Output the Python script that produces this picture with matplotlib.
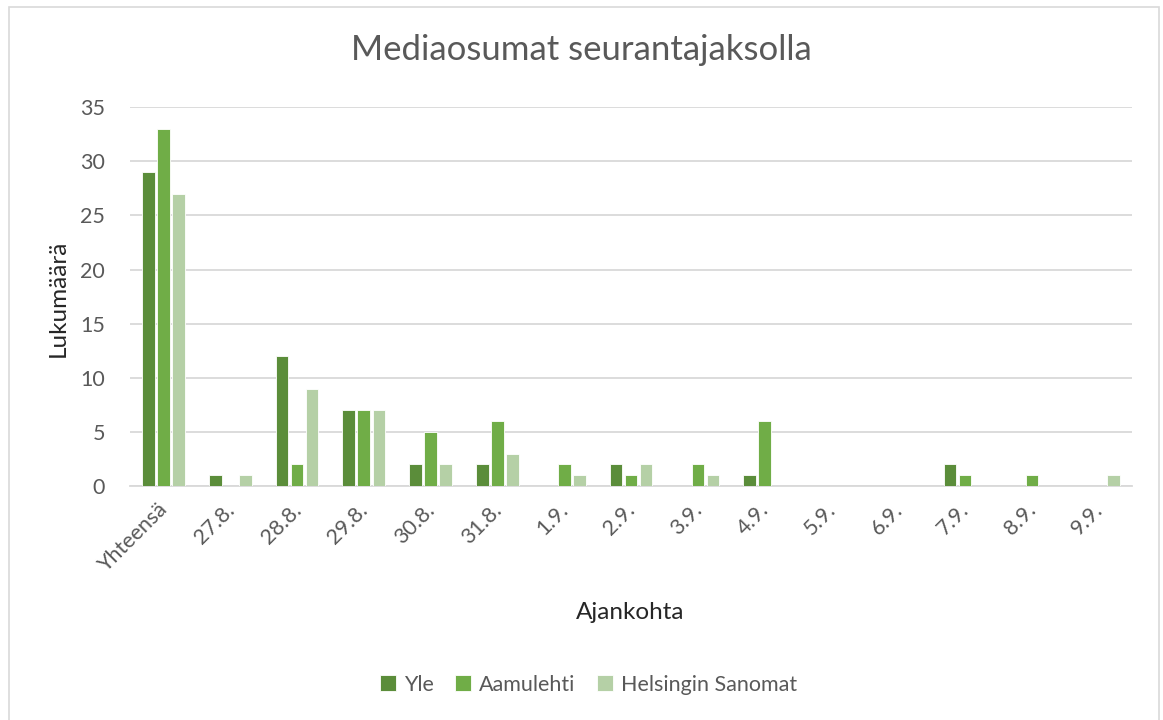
import matplotlib
matplotlib.use("Agg")
import matplotlib.pyplot as plt
import matplotlib.transforms as mtransforms
import numpy as np
from matplotlib.patches import Rectangle

# Data
kategoriat = ["Yhteensä", "27.8.", "28.8.", "29.8.", "30.8.", "31.8.", "1.9.",
              "2.9.", "3.9.", "4.9.", "5.9.", "6.9.", "7.9.", "8.9.", "9.9."]
yle = [29, 1, 12, 7, 2, 2, 0, 2, 0, 1, 0, 0, 2, 0, 0]
aamulehti = [33, 0, 2, 7, 5, 6, 2, 1, 2, 6, 0, 0, 1, 1, 0]
hs = [27, 1, 9, 7, 2, 3, 1, 2, 1, 0, 0, 0, 0, 0, 1]
sarjat = ["Yle", "Aamulehti", "Helsingin Sanomat"]
varit = ["#5B8D3A", "#70AD47", "#B5D0A6"]

plt.rcParams["font.family"] = ["Lato", "DejaVu Sans"]
teksti = "#595959"

fig = plt.figure(figsize=(11.63, 7.2), dpi=100)
fig.patch.set_facecolor("white")

# kaavion kehys
fig.add_artist(Rectangle((9 / 1163, -0.01), 1150 / 1163, (720 - 7) / 720 + 0.01,
                         transform=fig.transFigure, fill=False,
                         edgecolor="#d9d9d9", linewidth=1.2))

ax = fig.add_axes([0.1118, 0.325, 0.8616, 0.526])

x = np.arange(len(kategoriat))
w = 0.19
step = 0.225
for i, (arvot, nimi, vari) in enumerate(zip([yle, aamulehti, hs], sarjat, varit)):
    ax.bar(x + (i - 1) * step, arvot, width=w, color=vari, label=nimi,
           edgecolor="white", linewidth=0.6, zorder=3)

ax.set_xlim(-0.5, len(kategoriat) - 0.5)
ax.set_ylim(0, 35)
ax.set_yticks(range(0, 36, 5))
ax.grid(axis="y", color="#d9d9d9", linewidth=1.3, zorder=0)
for s in ["top", "right", "left"]:
    ax.spines[s].set_visible(False)
ax.spines["bottom"].set_color("#d9d9d9")
ax.spines["bottom"].set_linewidth(1.3)
ax.tick_params(axis="both", length=0, labelsize=15.5, labelcolor=teksti)
ax.tick_params(axis="y", pad=18)
ax.set_xticks(x)
ax.set_xticklabels(kategoriat, rotation=45, ha="right", va="top",
                   rotation_mode="anchor")
ax.tick_params(axis="x", pad=10)
siirto = mtransforms.ScaledTranslation(-6 / 100, 0, fig.dpi_scale_trans)
for lab in ax.get_xticklabels():
    lab.set_transform(lab.get_transform() + siirto)

fig.text(0.5, 0.93, "Mediaosumat seurantajaksolla", ha="center", va="center",
         fontsize=25, color=teksti)
fig.text(0.05, 0.585, "Lukumäärä", rotation=90, ha="center", va="center",
         fontsize=17.5, color="#262626")
fig.text(0.542, 0.149, "Ajankohta", ha="center", va="center",
         fontsize=17.5, color="#262626")

fig.legend(loc="center", bbox_to_anchor=(0.506, 0.049), ncol=3, frameon=False,
           fontsize=15.5, labelcolor=teksti, handlelength=0.75, handleheight=0.75,
           handletextpad=0.35, columnspacing=1.0)

fig.savefig("out.png", dpi=100, facecolor="white")
